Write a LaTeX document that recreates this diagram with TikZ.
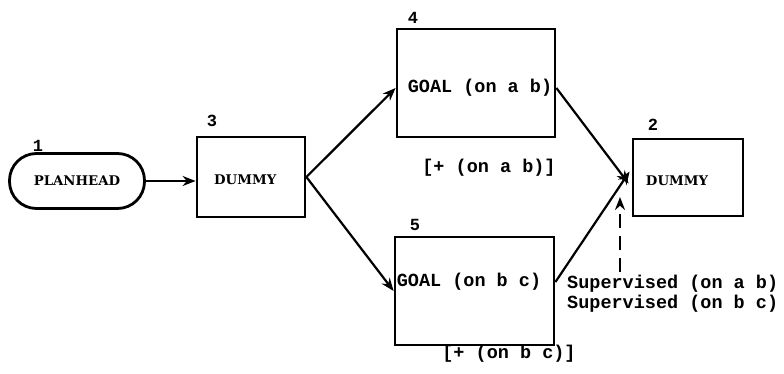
\documentclass[tikz,border=0pt]{standalone}
\usepackage{fontspec}
\setmainfont{DejaVu Serif}
\newfontfamily\tw{Liberation Mono}
\usetikzlibrary{arrows.meta}
\tikzset{
  conn/.style={line width=2.2pt, -{Stealth[length=13pt,width=10pt]}},
  frame/.style={draw, line width=2.8pt},
  hd/.style={font=\bfseries\fontsize{13.3}{15}\selectfont},
  tt/.style={font=\tw\bfseries\fontsize{18.5}{20}\selectfont, inner sep=0pt},
  num/.style={font=\tw\bfseries\fontsize{17}{19}\selectfont, inner sep=0pt},
}
\begin{document}
\begin{tikzpicture}[x=1pt,y=-1pt]
\useasboundingbox (0,0) rectangle (784,374);
% nodes
\node[frame, rounded corners=27pt, minimum width=135pt, minimum height=55pt, hd] (ph) at (77,181) {PLANHEAD};
\node[frame, minimum width=108pt, minimum height=80pt] (d3) at (251,177) {};
\node[hd, anchor=west, inner sep=0pt] (d3t) at (214,180) {DUMMY};
\node[frame, minimum width=158pt, minimum height=108pt] (g4) at (476,83) {};
\node[tt] (g4t) at (480,88) {GOAL (on a b)};
\node[frame, minimum width=159pt, minimum height=108pt] (g5) at (474.5,291) {};
\node[tt] (g5t) at (469,282) {GOAL (on b c)};
\node[frame, minimum width=110pt, minimum height=77pt] (d2) at (688,177.5) {};
\node[hd] (d2t) at (677,181) {DUMMY};
% numbers
\node[num] (n1) at (38,146) {1};
\node[num] (n3) at (212,121) {3};
\node[num] (n4) at (413,18) {4};
\node[num] (n5) at (415,225) {5};
\node[num] (n2) at (653,125) {2};
% annotations
\node[tt] (a4) at (489,168) {[+ (on a b)]};
\node[tt] (a5) at (509,354) {[+ (on b c)]};
\node[tt, anchor=west] (s1) at (567,284) {Supervised (on a b)};
\node[tt, anchor=west] (s2) at (567,304) {Supervised (on b c)};
\coordinate (sup) at (620,272);
\coordinate (supend) at (620,197);
% connectors
\draw[conn] (ph.east) -- (ph.east -| d3.west);
\draw[conn] (d3.east) -- ([yshift=-5pt]g4.west);
\draw[conn] (d3.east) -- (g5.west);
\draw[conn] ([yshift=-5pt]g4.east) -- ([xshift=-3pt,yshift=-6pt]d2.west);
\draw[conn] ([yshift=9pt]g5.east) -- ([xshift=-2pt,yshift=6pt]d2.west);
\draw[conn, dash pattern=on 14pt off 8pt] (sup) -- (supend);
\end{tikzpicture}
\end{document}
